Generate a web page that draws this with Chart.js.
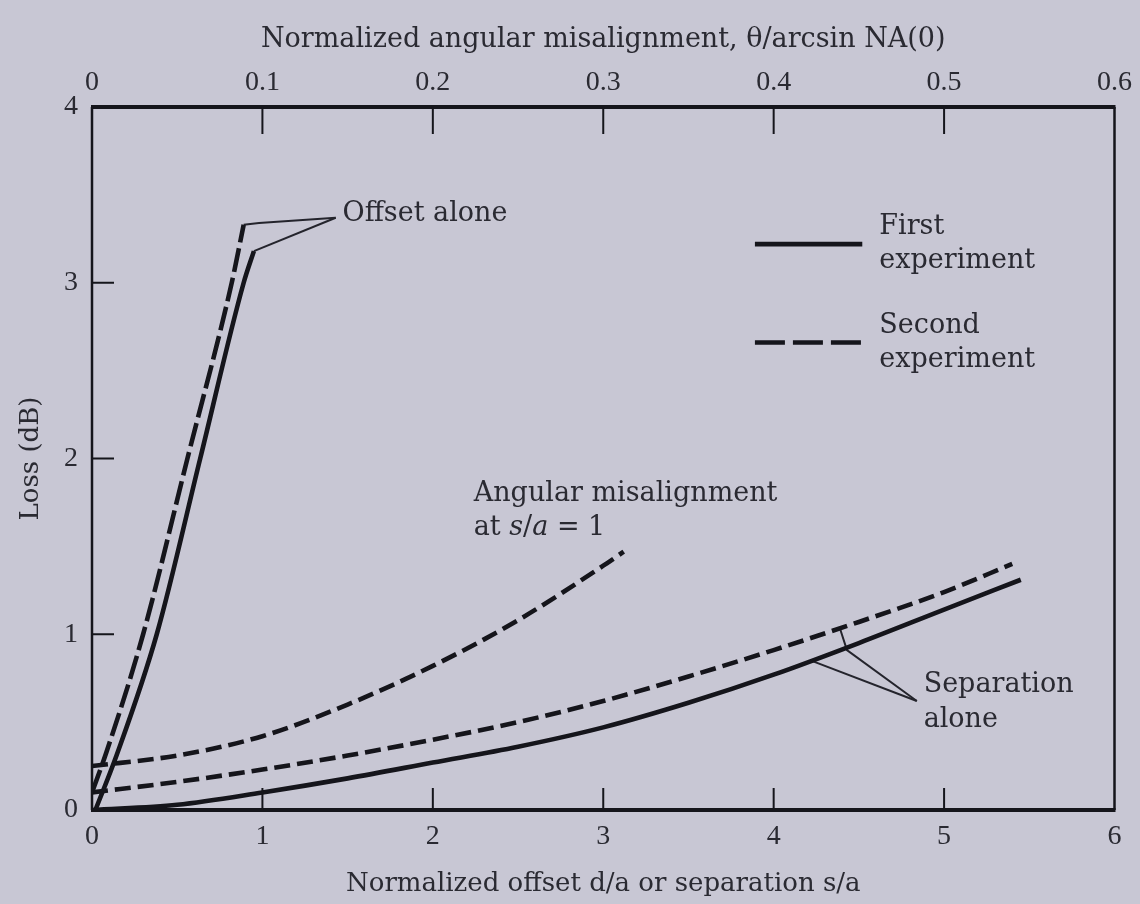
<!DOCTYPE html>
<html><head><meta charset="utf-8">
<script src="https://cdn.jsdelivr.net/npm/chart.js@4.4.1/dist/chart.umd.min.js"></script>
<style>
html,body{margin:0;padding:0;background:#c8c7d4;}
#wrap{width:1140px;height:904px;position:relative;}
canvas{display:block;}
</style></head>
<body><div id="wrap"><canvas id="c" width="1140" height="904"></canvas></div>
<script>
// ---- tick labels ----
const bottomTickLabels = ['0','1','2','3','4','5','6'];
const topTickLabels = ['0','0.1','0.2','0.3','0.4','0.5','0.6'];
const yTickLabels = ['0','1','2','3','4'];

// ---- series ----
// Offset alone (x = d/a)
const offsetFirstX  = [0.02, 0.14, 0.38, 0.635, 0.89, 0.95];
const offsetFirstY  = [0.00, 0.30, 1.00, 2.00, 3.00, 3.18];
const offsetSecondX = [0.00, 0.085, 0.30, 0.56, 0.82, 0.89];
const offsetSecondY = [0.10, 0.33, 1.00, 2.00, 3.00, 3.33];
// Separation alone (x = s/a)
const sepFirstX  = [0, 0.5, 1, 1.5, 2, 2.5, 3, 3.5, 4, 4.5, 5, 5.45];
const sepFirstY  = [0, 0.03, 0.10, 0.18, 0.27, 0.36, 0.47, 0.61, 0.77, 0.95, 1.14, 1.31];
const sepSecondX = [0, 0.5, 1, 1.5, 2, 2.5, 3, 3.5, 4, 4.5, 5, 5.4];
const sepSecondY = [0.10, 0.16, 0.23, 0.31, 0.40, 0.50, 0.62, 0.76, 0.91, 1.07, 1.24, 1.40];
// Angular misalignment at s/a = 1 (x = theta / arcsin NA(0), top axis)
const angularTheta = [0, 0.05, 0.10, 0.15, 0.20, 0.25, 0.30, 0.312];
const angularLoss  = [0.25, 0.31, 0.42, 0.60, 0.82, 1.08, 1.39, 1.47];
// Leader lines of the annotations
const offsetLeaderDashedX = [0.89, 0.98, 1.43];
const offsetLeaderDashedY = [3.33, 3.34, 3.37];
const offsetLeaderSolidX  = [0.95, 1.43];
const offsetLeaderSolidY  = [3.18, 3.37];
const sepLeaderAX = [4.39, 4.43, 4.84];
const sepLeaderAY = [1.03, 0.91, 0.62];
const sepLeaderBX = [4.22, 4.84];
const sepLeaderBY = [0.85, 0.62];

const pts = (xs, ys) => xs.map((x, i) => ({x, y: ys[i]}));

const INK = '#15151b';
const TXT = '#2a2a32';
const SERIF = '"DejaVu Serif", "Liberation Serif", serif';
const NUMF = '"Liberation Serif", "DejaVu Serif", serif';

const curve = (label, data, dash, axis) => ({
  label, data, xAxisID: axis || 'x', yAxisID: 'y',
  borderColor: INK, borderWidth: 4.6, borderDash: dash || [],
  pointRadius: 0, fill: false, cubicInterpolationMode: 'monotone', borderCapStyle: 'butt'
});
const leader = (data) => ({
  label: '', data, xAxisID: 'x', yAxisID: 'y', borderColor: '#24242c', borderWidth: 2,
  pointRadius: 0, fill: false, tension: 0
});

const decor = {
  id: 'decor',
  afterDatasetsDraw(chart) {
    const ctx = chart.ctx, ca = chart.chartArea;
    const sx = chart.scales.x, sx2 = chart.scales.x2, sy = chart.scales.y;
    ctx.save();
    ctx.strokeStyle = INK; ctx.lineCap = 'butt';
    // frame
    ctx.lineWidth = 4;
    ctx.beginPath(); ctx.moveTo(ca.left - 1, ca.top); ctx.lineTo(ca.right + 1, ca.top); ctx.stroke();
    ctx.beginPath(); ctx.moveTo(ca.left - 1, ca.bottom); ctx.lineTo(ca.right + 1, ca.bottom); ctx.stroke();
    ctx.lineWidth = 2.5;
    ctx.beginPath(); ctx.moveTo(ca.left, ca.top); ctx.lineTo(ca.left, ca.bottom); ctx.stroke();
    ctx.beginPath(); ctx.moveTo(ca.right, ca.top); ctx.lineTo(ca.right, ca.bottom); ctx.stroke();
    // inward ticks
    ctx.lineWidth = 2;
    for (let v = 1; v <= 5; v++) {
      const px = sx.getPixelForValue(v);
      ctx.beginPath(); ctx.moveTo(px, ca.bottom); ctx.lineTo(px, ca.bottom - 22); ctx.stroke();
    }
    for (let i = 1; i <= 5; i++) {
      const px = sx2.getPixelForValue(i / 10);
      ctx.beginPath(); ctx.moveTo(px, ca.top); ctx.lineTo(px, ca.top + 27); ctx.stroke();
    }
    for (let v = 1; v <= 3; v++) {
      const py = sy.getPixelForValue(v);
      ctx.beginPath(); ctx.moveTo(ca.left, py); ctx.lineTo(ca.left + 22, py); ctx.stroke();
    }
    // legend
    const lx0 = sx.getPixelForValue(3.89), lx1 = sx.getPixelForValue(4.52);
    const ly1 = sy.getPixelForValue(3.22), ly2 = sy.getPixelForValue(2.66);
    ctx.lineWidth = 4.6;
    ctx.beginPath(); ctx.moveTo(lx0, ly1); ctx.lineTo(lx1, ly1); ctx.stroke();
    ctx.setLineDash([30, 8]);
    ctx.beginPath(); ctx.moveTo(lx0, ly2); ctx.lineTo(lx1, ly2); ctx.stroke();
    ctx.setLineDash([]);

    ctx.fillStyle = TXT;
    ctx.textBaseline = 'middle'; ctx.textAlign = 'left';
    const font = (it) => (it ? 'italic ' : '') + '27px ' + SERIF;
    const text = (segs, xv, yv, dy) => {
      let x = sx.getPixelForValue(xv);
      const y = sy.getPixelForValue(yv) + (dy || 0);
      segs.forEach(([s, it]) => { ctx.font = font(it); ctx.fillText(s, x, y); x += ctx.measureText(s).width; });
    };
    const tx = 4.62;
    text([['First', 0]], tx, 3.22, -17);
    text([['experiment', 0]], tx, 3.22, 17);
    text([['Second', 0]], tx, 2.66, -17);
    text([['experiment', 0]], tx, 2.66, 17);
    text([['Offset alone', 0]], 1.47, 3.39, 0);
    text([['Angular misalignment', 0]], 2.24, 1.80, 0);
    text([['at ', 0], ['s', 1], ['/', 0], ['a', 1], [' = 1', 0]], 2.24, 1.80, 34);
    text([['Separation', 0]], 4.88, 0.71, 0);
    text([['alone', 0]], 4.88, 0.71, 35);
    ctx.restore();
  }
};

new Chart(document.getElementById('c'), {
  type: 'line',
  data: {
    datasets: [
      curve('Offset alone, first experiment', pts(offsetFirstX, offsetFirstY)),
      curve('Offset alone, second experiment', pts(offsetSecondX, offsetSecondY), [24, 6]),
      curve('Separation alone, first experiment', pts(sepFirstX, sepFirstY)),
      curve('Separation alone, second experiment', pts(sepSecondX, sepSecondY), [16, 7]),
      curve('Angular misalignment at s/a = 1', pts(angularTheta, angularLoss), [16, 7], 'x2'),
      leader(pts(offsetLeaderDashedX, offsetLeaderDashedY)),
      leader(pts(offsetLeaderSolidX, offsetLeaderSolidY)),
      leader(pts(sepLeaderAX, sepLeaderAY)),
      leader(pts(sepLeaderBX, sepLeaderBY))
    ]
  },
  options: {
    responsive: false, animation: false,
    layout: { padding: { left: 0, right: 23, top: 0, bottom: 0 } },
    plugins: { legend: { display: false }, tooltip: { enabled: false } },
    scales: {
      x: {
        type: 'linear', position: 'bottom', min: 0, max: 6,
        afterBuildTicks: s => { s.ticks = bottomTickLabels.map(t => ({value: Number(t)})); },
        ticks: { callback: (v, i) => bottomTickLabels[i], font: { family: NUMF, size: 28 }, color: TXT, padding: 10, maxRotation: 0 },
        grid: { display: false, drawTicks: false }, border: { display: false },
        title: { display: true, text: 'Normalized offset d/a or separation s/a', font: { family: SERIF, size: 26 }, color: TXT, padding: { top: 0, bottom: 4 } },
        afterFit: s => { s.height = 94; }
      },
      x2: {
        type: 'linear', position: 'top', min: 0, max: 0.6,
        afterBuildTicks: s => { s.ticks = topTickLabels.map(t => ({value: Number(t)})); },
        ticks: { callback: (v, i) => topTickLabels[i], font: { family: NUMF, size: 28 }, color: TXT, padding: 8, maxRotation: 0 },
        grid: { display: false, drawTicks: false }, border: { display: false },
        title: { display: true, text: 'Normalized angular misalignment, θ/arcsin NA(0)', font: { family: SERIF, size: 27 }, color: TXT, padding: { top: 24, bottom: 0 } },
        afterFit: s => { s.height = 107; }
      },
      y: {
        type: 'linear', position: 'left', min: 0, max: 4,
        afterBuildTicks: s => { s.ticks = yTickLabels.map(t => ({value: Number(t)})); },
        ticks: { callback: (v, i) => yTickLabels[i], font: { family: NUMF, size: 28 }, color: TXT, padding: 14 },
        grid: { display: false, drawTicks: false }, border: { display: false },
        title: { display: true, text: 'Loss (dB)', font: { family: SERIF, size: 26 }, color: TXT, padding: { top: 16, bottom: 0 } },
        afterFit: s => { s.width = 92; }
      }
    }
  },
  plugins: [decor]
});
</script>
</body></html>
